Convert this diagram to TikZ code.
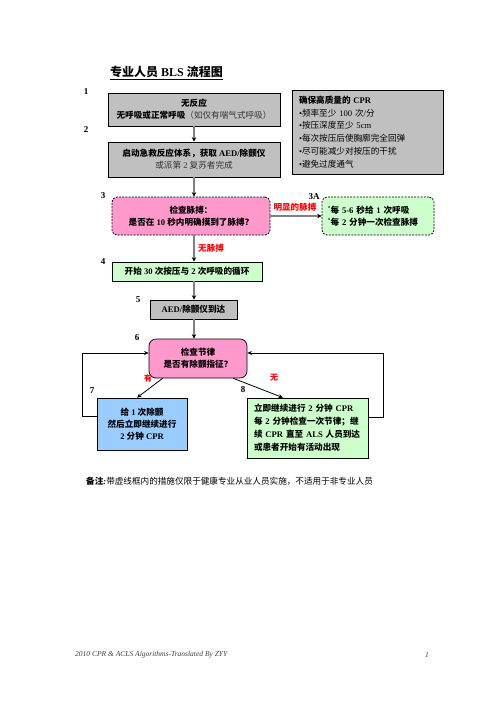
\documentclass[tikz,border=0pt]{standalone}
\usepackage{fontspec}
\setmainfont{Liberation Serif}
\newfontfamily\cjk{Noto Sans CJK SC}
\usetikzlibrary{arrows.meta}
\XeTeXinterchartokenstate=1
\newXeTeXintercharclass\CJKcls
\newcount\cjkcc
\cjkcc="3000 \loop \XeTeXcharclass\cjkcc=\CJKcls \advance\cjkcc by 1 \ifnum\cjkcc<"3040 \repeat
\cjkcc="4E00 \loop \XeTeXcharclass\cjkcc=\CJKcls \advance\cjkcc by 1 \ifnum\cjkcc<"A000 \repeat
\cjkcc="FF00 \loop \XeTeXcharclass\cjkcc=\CJKcls \advance\cjkcc by 1 \ifnum\cjkcc<"FFF0 \repeat
\XeTeXinterchartoks 0 \CJKcls = {\cjk}
\XeTeXinterchartoks 4095 \CJKcls = {\cjk}
\XeTeXinterchartoks \CJKcls 0 = {\rmfamily}
\XeTeXinterchartoks \CJKcls 4095 = {\rmfamily}
\definecolor{gbox}{RGB}{192,192,192}
\definecolor{pbox}{RGB}{255,153,204}
\definecolor{grbox}{RGB}{204,255,204}
\definecolor{bbox}{RGB}{153,204,255}
\definecolor{conngray}{RGB}{128,128,128}
\begin{document}
\begin{tikzpicture}[x=1pt,y=-1pt,
  box/.style={draw=black, line width=0.7pt, inner sep=0pt, align=center,
    font=\fontsize{8.6}{12}\selectfont\bfseries},
  dashbox/.style={box, dash pattern=on 2pt off 1.2pt, rounded corners=5pt},
  num/.style={font=\fontsize{9}{9}\selectfont\bfseries, inner sep=0pt},
  lab/.style={text=red, font=\fontsize{8.6}{9}\selectfont\bfseries, inner sep=0pt},
  conn/.style={draw=conngray, line width=1.8pt, -{Stealth[color=black, length=4.5pt, width=4.5pt]}},
  loopl/.style={draw=black, line width=0.8pt, -{Stealth[length=4.5pt, width=4pt]}},
]
\useasboundingbox (0,0) rectangle (496,702);
\fill[white] (0,0) rectangle (496,702);

\node[font=\fontsize{12}{12}\selectfont\bfseries, inner sep=0pt, anchor=west] (title) at (110,73)
  {\underline{\hbox{专业人员 BLS 流程图}}};

\node[box, fill=gbox, minimum width=172pt, minimum height=33pt] (b1) at (194,109.5)
  {无反应\\无呼吸或正常呼吸{\mdseries\color{black!80}（如仅有喘气式呼吸）}};
\node[box, fill=gbox, minimum width=172pt, minimum height=35pt] (b2) at (194,159.5)
  {启动急救反应体系，获取 AED/除颤仪\\{\mdseries\color{black!80} 或派第 2 复苏者完成}};
\node[box, fill=gbox, minimum width=151pt, minimum height=84pt, text width=137pt,
  align=left, font=\fontsize{8.6}{12.8}\selectfont] (cpr) at (367.5,132)
  {\textbf{确保高质量的 CPR}\\•频率至少 100 次/分\\•按压深度至少 5cm\\•每次按压后使胸廓完全回弹\\•尽可能减少对按压的干扰\\•避免过度通气};

\node[dashbox, fill=pbox, minimum width=158pt, minimum height=38pt] (b3) at (191,216)
  {检查脉搏：\\是否在 10 秒内明确摸到了脉搏？};
\node[dashbox, fill=grbox, minimum width=112pt, minimum height=38pt, text width=100pt, align=left] (b3a) at (378,216)
  {\textsuperscript{•}每 5-6 秒给 1 次呼吸\\\textsuperscript{•}每 2 分钟一次检查脉搏};
\node[box, fill=grbox, minimum width=150pt, minimum height=19pt] (b4) at (187,271.5)
  {开始 30 次按压与 2 次呼吸的循环};
\node[box, fill=gbox, minimum width=87pt, minimum height=19pt] (b5) at (193.5,309.5)
  {AED/除颤仪到达};
\node[box, fill=pbox, rounded corners=7pt, minimum width=98pt, minimum height=39pt] (b6) at (198,358.5)
  {检查节律\\是否有除颤指征？};
\node[box, fill=bbox, minimum width=90pt, minimum height=52pt] (b7) at (142,424)
  {给 1 次除颤\\然后立即继续进行\\2 分钟 CPR};
\node[box, fill=grbox, minimum width=121pt, minimum height=60pt, text width=107pt, align=left,
  font=\fontsize{8.6}{13}\selectfont\bfseries] (b8) at (307.5,428)
  {立即继续进行 2 分钟 CPR\\\makebox[107pt][s]{每 2 分钟检查一次节律；继}\\\makebox[107pt][s]{续 CPR 直至 ALS 人员到达}\\或患者开始有活动出现};

\node[num] (n1) at (86,92) {1};
\node[num] (n2) at (86,130) {2};
\node[num] (n3) at (103,196) {3};
\node[num] (n3a) at (314,197) {3A};
\node[num] (n4) at (103,262) {4};
\node[num] (n5) at (138,300) {5};
\node[num] (n6) at (137,338) {6};
\node[num] (n7) at (92,391) {7};
\node[num] (n8) at (243,390) {8};

\draw[conn] (b1.south) -- (b2.north);
\draw[conn] (b2.south) -- (b2.south |- b3.north);
\draw[conn] (b3.south -| b2.south) -- (b4.north -| b2.south);
\draw[conn] (b4.south -| b2.south) -- (b5.north -| b2.south);
\draw[conn] (b5.south -| b2.south) -- (b6.north -| b2.south);
\draw[conn] (b3.east) -- (b3a.west);

\node[lab] (lpulse) at (295,207.5) {明显的脉搏};
\node[lab, anchor=west] (lnopulse) at (198,248) {无脉搏};
\node[lab, font=\fontsize{8}{8}\selectfont\bfseries] (lyes) at (148,378) {有};
\node[lab, font=\fontsize{8}{8}\selectfont\bfseries] (lno) at (274,378) {无};

\draw[loopl] ([yshift=8pt]b7.west) -- ++(-14,0) |- ([yshift=5.5pt]b6.west);
\draw[loopl] ([yshift=11pt]b8.east) -- ++(15,0) |- ([yshift=5.5pt]b6.east);
\draw[loopl] ([xshift=14pt]b6.south west) -- ([xshift=-5pt]b7.north);
\draw[loopl] ([xshift=-14pt]b6.south east) -- ([xshift=-24.5pt]b8.north);

\node[anchor=west, inner sep=0pt, font=\fontsize{8.6}{9}\selectfont] (note) at (86,481)
  {\textbf{\itshape 备注:}带虚线框内的措施仅限于健康专业从业人员实施，不适用于非专业人员};

\node[anchor=west, inner sep=0pt, text=black!75, font=\fontsize{7.5}{7.5}\selectfont\itshape] (foot) at (75,655)
  {2010 CPR \& ACLS Algorithms-Translated By ZYY};
\node[inner sep=0pt, text=black!75, font=\fontsize{7.5}{7.5}\selectfont\itshape] (page) at (427,655) {1};
\end{tikzpicture}
\end{document}
